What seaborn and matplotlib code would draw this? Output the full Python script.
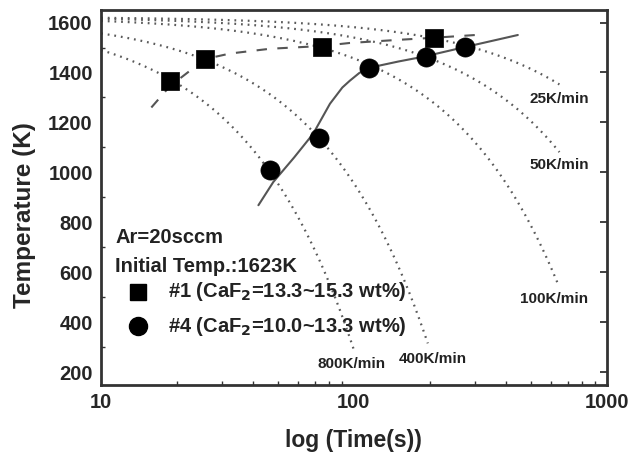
import numpy as np
import pandas as pd
import matplotlib
matplotlib.use("Agg")
import matplotlib.pyplot as plt
import seaborn as sns
from matplotlib.ticker import FixedLocator, MultipleLocator, NullFormatter, LogLocator

# ---------------- data ----------------
initial_temp = 1623.0                      # K
cooling_rates = [25, 50, 100, 400, 800]    # K/min
rate_end_time = [650, 650, 640, 196, 100]  # s, where each dotted curve stops
rate_labels = ["25K/min", "50K/min", "100K/min", "400K/min", "800K/min"]

s1_time = [18.7, 25.8, 74.5, 207]
s1_temp = [1366, 1454, 1503, 1537]
s4_time = [46.6, 72.8, 115, 193, 275]
s4_temp = [1011, 1139, 1419, 1461, 1504]

# guide curves
s1_fit_time = [15.8, 18.7, 25.8, 32.4, 46.6, 74.5, 96, 152, 207, 324]
s1_fit_temp = [1260, 1345, 1454, 1476, 1495, 1506, 1518, 1531, 1539, 1552]
s4_fit_time = [41.9, 48, 58, 69, 80.4, 90, 96.3, 105, 115, 150, 188, 270, 445]
s4_fit_temp = [869, 962, 1060, 1155, 1275, 1340, 1367, 1398, 1419, 1444, 1463, 1500, 1550]

x_ticks = [10, 100, 1000]
y_ticks = [200, 400, 600, 800, 1000, 1200, 1400, 1600]

# ---------------- style ----------------
sns.set_style("white")
plt.rcParams["font.family"] = ["Liberation Sans", "DejaVu Sans"]
plt.rcParams["font.weight"] = "bold"
plt.rcParams["mathtext.default"] = "bf"

fig = plt.figure(figsize=(6.32, 4.55), dpi=100)
ax = fig.add_axes([0.160, 0.154, 0.800, 0.824])

# cooling-rate reference curves
rows = []
for r, tend, lab in zip(cooling_rates, rate_end_time, rate_labels):
    t = np.logspace(1, np.log10(tend), 200)
    for ti in t:
        rows.append({"time": ti, "temp": initial_temp - r * ti / 60.0, "rate": lab})
df_rates = pd.DataFrame(rows)
for lab in rate_labels:
    sub = df_rates[df_rates["rate"] == lab]
    sns.lineplot(data=sub, x="time", y="temp", ax=ax, color="#5a5a5a",
                 linewidth=1.6, linestyle=(0, (0.8, 2.2)), sort=False,
                 estimator=None, legend=False)

# fitted guide lines
df_f1 = pd.DataFrame({"time": s1_fit_time, "temp": s1_fit_temp})
df_f4 = pd.DataFrame({"time": s4_fit_time, "temp": s4_fit_temp})
sns.lineplot(data=df_f1, x="time", y="temp", ax=ax, color="#555555",
             linewidth=1.5, linestyle=(0, (5, 5)), sort=False, estimator=None)
sns.lineplot(data=df_f4, x="time", y="temp", ax=ax, color="#555555",
             linewidth=1.5, linestyle="-", sort=False, estimator=None)

# measured points
df1 = pd.DataFrame({"time": s1_time, "temp": s1_temp})
df4 = pd.DataFrame({"time": s4_time, "temp": s4_temp})
sns.scatterplot(data=df1, x="time", y="temp", ax=ax, marker="s", s=150,
                color="black", edgecolor="black", linewidth=0.5, zorder=5)
sns.scatterplot(data=df4, x="time", y="temp", ax=ax, marker="o", s=190,
                color="black", edgecolor="black", linewidth=0.5, zorder=5)

# axes
ax.set_xscale("log")
ax.set_xlim(10, 1000)
ax.set_ylim(150, 1650)
ax.xaxis.set_major_locator(FixedLocator(x_ticks))
ax.set_xticklabels([str(v) for v in x_ticks])
ax.xaxis.set_minor_locator(LogLocator(base=10, subs=[2, 3, 4, 5, 6, 7, 8, 9]))
ax.xaxis.set_minor_formatter(NullFormatter())
ax.yaxis.set_major_locator(FixedLocator(y_ticks))
ax.yaxis.set_minor_locator(MultipleLocator(100))
ax.tick_params(axis="both", which="major", direction="in", length=5, width=1.3,
               labelsize=14.5, color="#333333", pad=6)
ax.tick_params(axis="both", which="minor", direction="in", length=3, width=1.0,
               color="#333333", bottom=True, left=True)
ax.tick_params(axis="y", which="major", right=True)
ax.tick_params(axis="y", which="minor", right=False)
for lbl in ax.get_xticklabels() + ax.get_yticklabels():
    lbl.set_fontweight("bold")
for sp in ax.spines.values():
    sp.set_linewidth(2.0)
    sp.set_color("#333333")

ax.set_xlabel("log (Time(s))", fontsize=16.5, fontweight="bold", labelpad=12)
ax.set_ylabel("Temperature (K)", fontsize=17.5, fontweight="bold")
ax.yaxis.set_label_coords(-0.128, 0.453)

# rate labels
lab_pos = {"25K/min": (529, 99), "50K/min": (529, 165), "100K/min": (520, 299),
           "400K/min": (399, 359), "800K/min": (318, 364)}
for lab in rate_labels:
    px, py = lab_pos[lab]
    fig.text(px / 632, 1 - py / 455, lab, fontsize=11, fontweight="bold",
             ha="left", va="center", color="#222222")

# annotation block
fig.text(115 / 632, 1 - 237 / 455, "Ar=20sccm", fontsize=14.5, fontweight="bold",
         ha="left", va="center", color="#222222")
fig.text(115 / 632, 1 - 266 / 455, "Initial Temp.:1623K", fontsize=14.5,
         fontweight="bold", ha="left", va="center", color="#222222")
fig.lines.append(plt.Line2D([138 / 632], [1 - 291.5 / 455], marker="s", markersize=11,
                            color="black", transform=fig.transFigure))
fig.lines.append(plt.Line2D([138 / 632], [1 - 326 / 455], marker="o", markersize=13,
                            color="black", transform=fig.transFigure))
fig.text(168 / 632, 1 - 291.5 / 455, r"#1 (CaF$_2$=13.3~15.3 wt%)", fontsize=14.5,
         fontweight="bold", ha="left", va="center", color="#222222")
fig.text(168 / 632, 1 - 326 / 455, r"#4 (CaF$_2$=10.0~13.3 wt%)", fontsize=14.5,
         fontweight="bold", ha="left", va="center", color="#222222")

fig.savefig("out.png", dpi=100)
